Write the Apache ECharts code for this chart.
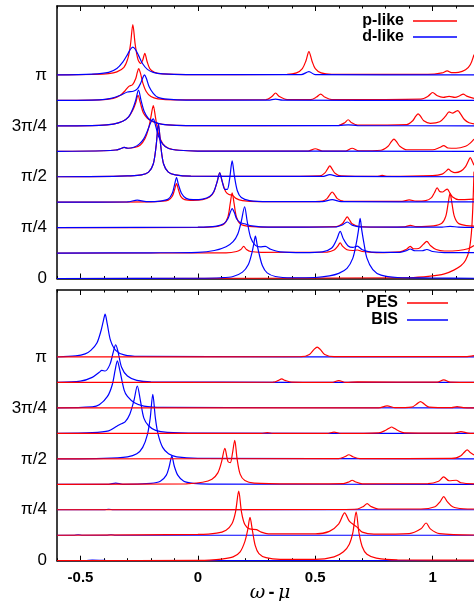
<!DOCTYPE html>
<html><head><meta charset="utf-8">
<script src="https://cdn.jsdelivr.net/npm/echarts@6/dist/echarts.min.js"></script>
<style>html,body{margin:0;padding:0;background:#fff}#c{width:474px;height:601px}</style>
</head><body><div id="c"></div>
<script>
const xMajor = [-0.5, 0, 0.5, 1];
const xMinor = [-0.6,-0.4,-0.3,-0.2,-0.1,0.1,0.2,0.3,0.4,0.6,0.7,0.8,0.9,1.1];
const rowValues = [0, 2, 4, 6, 8];
const rowLabels = ['0', 'π/4', 'π/2', '3π/4', 'π'];
const topNames = ['p-like', 'd-like'];
const botNames = ['PES', 'BIS'];

// Top panel, p-like (red): one curve per row k = 0..8, [ω-μ, height above row baseline]
const pLike = [
 [[-0.6,0],[0.9,0.03],[0.99,0.09],[1.05,0.18],[1.09,0.33],[1.12,0.5],[1.14,0.72],[1.155,1.1],[1.165,1.8],[1.171,2.8],[1.176,4.2]],
 [[-0.6,0],[0.12,0.01],[0.165,0.06],[0.183,0.14],[0.195,0.26],[0.207,0.14],[0.225,0.06],[0.27,0.03],[0.55,0.04],[0.58,0.12],[0.595,0.26],[0.606,0.4],[0.617,0.26],[0.635,0.13],[0.66,0.1],[0.679,0.12],[0.7,0.06],[0.76,0.02],[0.86,0.05],[0.89,0.16],[0.904,0.26],[0.918,0.17],[0.94,0.18],[0.96,0.34],[0.975,0.46],[0.99,0.3],[1.015,0.14],[1.05,0.08],[1.11,0.1],[1.15,0.17],[1.176,0.3]],
 [[-0.6,0],[0.0,0.01],[0.076,0.04],[0.111,0.14],[0.128,0.42],[0.138,0.96],[0.146,1.37],[0.154,0.96],[0.164,0.42],[0.181,0.14],[0.216,0.05],[0.3,0.02],[0.59,0.04],[0.615,0.15],[0.626,0.3],[0.636,0.42],[0.646,0.3],[0.657,0.15],[0.69,0.04],[0.8,0.02],[0.88,0.03],[0.905,0.09],[0.93,0.04],[1.004,0.07],[1.039,0.17],[1.056,0.45],[1.066,0.96],[1.074,1.35],[1.082,0.96],[1.092,0.45],[1.109,0.17],[1.144,0.08],[1.176,0.06]],
 [[-0.6,0],[-0.2,0.01],[-0.16,0.03],[-0.126,0.08],[-0.109,0.23],[-0.099,0.5],[-0.091,0.73],[-0.083,0.5],[-0.073,0.23],[-0.056,0.1],[-0.02,0.07],[0.02,0.1],[0.05,0.2],[0.068,0.4],[0.082,0.8],[0.093,1.15],[0.104,0.8],[0.118,0.42],[0.132,0.3],[0.146,0.28],[0.162,0.15],[0.19,0.06],[0.26,0.02],[0.5,0.02],[0.53,0.04],[0.55,0.14],[0.562,0.3],[0.572,0.4],[0.582,0.3],[0.594,0.14],[0.62,0.04],[0.87,0.03],[0.9,0.09],[0.93,0.04],[0.97,0.06],[0.995,0.18],[1.008,0.38],[1.019,0.56],[1.03,0.42],[1.042,0.4],[1.052,0.46],[1.062,0.51],[1.072,0.38],[1.085,0.2],[1.11,0.1],[1.176,0.12]],
 [[-0.6,0],[-0.36,0.01],[-0.3,0.03],[-0.24,0.07],[-0.21,0.18],[-0.19,0.5],[-0.178,1.2],[-0.168,2.07],[-0.158,1.2],[-0.146,0.5],[-0.126,0.18],[-0.096,0.07],[-0.03,0.02],[0.3,0.01],[0.52,0.03],[0.54,0.14],[0.552,0.3],[0.562,0.43],[0.572,0.3],[0.584,0.14],[0.61,0.03],[0.76,0.01],[0.785,0.05],[0.81,0.01],[1.0,0.04],[1.04,0.1],[1.057,0.22],[1.067,0.3],[1.078,0.22],[1.095,0.16],[1.12,0.22],[1.14,0.4],[1.152,0.62],[1.16,0.75],[1.168,0.62],[1.176,0.45]],
 [[-0.6,0],[-0.4,0.02],[-0.35,0.05],[-0.33,0.1],[-0.314,0.15],[-0.298,0.12],[-0.27,0.15],[-0.245,0.25],[-0.225,0.5],[-0.21,0.9],[-0.2,1.35],[-0.19,1.8],[-0.18,1.3],[-0.168,0.7],[-0.15,0.3],[-0.125,0.12],[-0.08,0.04],[0.0,0.01],[0.47,0.01],[0.5,0.1],[0.53,0.01],[0.63,0.01],[0.657,0.12],[0.685,0.02],[0.78,0.04],[0.81,0.2],[0.824,0.38],[0.835,0.48],[0.846,0.38],[0.86,0.2],[0.89,0.06],[1.0,0.06],[1.03,0.15],[1.047,0.22],[1.065,0.13],[1.1,0.12],[1.14,0.2],[1.16,0.32],[1.176,0.48]],
 [[-0.6,0],[-0.42,0.02],[-0.36,0.07],[-0.32,0.18],[-0.295,0.35],[-0.278,0.6],[-0.265,0.9],[-0.255,1.2],[-0.245,0.9],[-0.232,0.5],[-0.215,0.3],[-0.2,0.2],[-0.18,0.12],[-0.14,0.05],[-0.05,0.01],[0.6,0.02],[0.625,0.12],[0.64,0.24],[0.655,0.12],[0.68,0.03],[0.89,0.05],[0.915,0.2],[0.928,0.38],[0.938,0.47],[0.948,0.38],[0.962,0.2],[0.99,0.1],[1.03,0.16],[1.055,0.38],[1.07,0.55],[1.085,0.5],[1.097,0.56],[1.107,0.6],[1.12,0.45],[1.135,0.25],[1.155,0.12],[1.176,0.08]],
 [[-0.6,0],[-0.42,0.02],[-0.36,0.08],[-0.33,0.2],[-0.31,0.38],[-0.294,0.55],[-0.278,0.62],[-0.265,0.85],[-0.258,1.1],[-0.252,1.25],[-0.244,1.05],[-0.235,0.7],[-0.22,0.35],[-0.2,0.15],[-0.17,0.06],[-0.1,0.02],[0.29,0.03],[0.315,0.15],[0.331,0.29],[0.347,0.15],[0.38,0.03],[0.48,0.03],[0.505,0.13],[0.523,0.25],[0.54,0.13],[0.57,0.03],[0.95,0.05],[0.98,0.16],[1.0,0.31],[1.02,0.18],[1.045,0.12],[1.07,0.16],[1.095,0.12],[1.115,0.18],[1.13,0.25],[1.145,0.17],[1.176,0.08]],
 [[-0.6,0],[-0.45,0.02],[-0.38,0.05],[-0.345,0.12],[-0.315,0.3],[-0.298,0.65],[-0.287,1.2],[-0.277,1.98],[-0.267,1.2],[-0.255,0.6],[-0.243,0.45],[-0.235,0.58],[-0.226,0.85],[-0.217,0.55],[-0.205,0.25],[-0.185,0.1],[-0.15,0.04],[-0.05,0.01],[0.38,0.02],[0.42,0.08],[0.445,0.25],[0.46,0.55],[0.473,0.92],[0.486,0.55],[0.5,0.25],[0.525,0.08],[0.57,0.02],[0.98,0.02],[1.04,0.08],[1.062,0.16],[1.08,0.09],[1.11,0.1],[1.14,0.2],[1.16,0.4],[1.176,0.8]]
];

// Top panel, d-like (blue)
const dLike = [
 [[-0.6,0],[0.0,0.01],[0.1,0.03],[0.15,0.08],[0.19,0.25],[0.215,0.55],[0.23,1.0],[0.238,1.35],[0.245,1.67],[0.252,1.35],[0.26,1.0],[0.275,0.5],[0.295,0.22],[0.33,0.08],[0.4,0.03],[0.5,0.04],[0.56,0.1],[0.6,0.2],[0.635,0.4],[0.66,0.8],[0.675,1.4],[0.684,1.9],[0.691,2.36],[0.698,1.9],[0.707,1.4],[0.72,0.8],[0.745,0.35],[0.78,0.13],[0.85,0.04],[1.0,0.02],[1.176,0.01]],
 [[-0.6,0],[-0.2,0.01],[0.0,0.03],[0.07,0.1],[0.12,0.25],[0.15,0.45],[0.17,0.75],[0.185,1.25],[0.199,1.82],[0.21,1.25],[0.225,0.6],[0.245,0.3],[0.265,0.24],[0.287,0.26],[0.31,0.15],[0.35,0.05],[0.45,0.02],[0.53,0.05],[0.57,0.2],[0.592,0.55],[0.606,0.85],[0.62,0.55],[0.64,0.28],[0.66,0.22],[0.679,0.27],[0.7,0.13],[0.74,0.04],[0.86,0.03],[0.89,0.1],[0.904,0.16],[0.925,0.09],[0.955,0.09],[0.975,0.14],[1.0,0.06],[1.05,0.02],[1.176,0.02]],
 [[-0.6,0],[0.0,0.02],[0.08,0.06],[0.11,0.15],[0.128,0.35],[0.138,0.6],[0.146,0.75],[0.155,0.6],[0.165,0.35],[0.18,0.2],[0.199,0.15],[0.23,0.07],[0.3,0.02],[0.59,0.03],[0.615,0.1],[0.636,0.22],[0.657,0.1],[0.69,0.03],[1.04,0.02],[1.074,0.05],[1.11,0.02],[1.176,0.01]],
 [[-0.6,0],[-0.3,0.01],[-0.258,0.08],[-0.22,0.02],[-0.16,0.04],[-0.126,0.12],[-0.109,0.35],[-0.099,0.7],[-0.091,0.97],[-0.083,0.7],[-0.07,0.35],[-0.05,0.15],[-0.02,0.1],[0.02,0.12],[0.05,0.22],[0.068,0.42],[0.082,0.8],[0.093,1.15],[0.104,0.8],[0.115,0.5],[0.125,0.5],[0.135,0.9],[0.146,1.62],[0.156,1.0],[0.168,0.45],[0.185,0.18],[0.22,0.06],[0.3,0.02],[0.53,0.02],[0.572,0.1],[0.61,0.02],[1.176,0.01]],
 [[-0.6,0],[-0.36,0.01],[-0.3,0.03],[-0.24,0.07],[-0.21,0.18],[-0.19,0.5],[-0.178,1.2],[-0.168,2.07],[-0.158,1.2],[-0.146,0.5],[-0.126,0.18],[-0.096,0.07],[-0.03,0.02],[0.3,0.01],[0.53,0.01],[0.562,0.08],[0.6,0.01],[1.176,0]],
 [[-0.6,0],[-0.4,0.02],[-0.35,0.05],[-0.33,0.1],[-0.314,0.15],[-0.298,0.12],[-0.273,0.16],[-0.25,0.28],[-0.23,0.5],[-0.215,0.8],[-0.2,1.15],[-0.19,1.27],[-0.18,1.0],[-0.168,0.6],[-0.15,0.28],[-0.125,0.11],[-0.08,0.04],[0.0,0.01],[1.176,0]],
 [[-0.6,0],[-0.42,0.02],[-0.36,0.07],[-0.32,0.18],[-0.295,0.35],[-0.278,0.65],[-0.265,1.0],[-0.253,1.4],[-0.242,1.0],[-0.228,0.55],[-0.21,0.28],[-0.19,0.18],[-0.17,0.1],[-0.13,0.04],[-0.05,0.01],[0.6,0.01],[0.64,0.04],[0.68,0.01],[1.176,0]],
 [[-0.6,0],[-0.42,0.02],[-0.37,0.08],[-0.33,0.2],[-0.3,0.33],[-0.275,0.36],[-0.258,0.45],[-0.245,0.65],[-0.235,0.88],[-0.228,1.0],[-0.22,0.88],[-0.208,0.55],[-0.19,0.28],[-0.17,0.12],[-0.13,0.05],[-0.05,0.01],[0.3,0.01],[0.331,0.05],[0.36,0.01],[1.176,0]],
 [[-0.6,0],[-0.45,0.03],[-0.38,0.1],[-0.345,0.25],[-0.32,0.5],[-0.3,0.8],[-0.288,1.0],[-0.277,1.09],[-0.266,1.0],[-0.252,0.75],[-0.236,0.45],[-0.215,0.22],[-0.19,0.1],[-0.15,0.04],[-0.05,0.01],[0.44,0.01],[0.473,0.13],[0.5,0.01],[1.176,0]]
];

// Bottom panel, PES (red)
const pes = [
 [[-0.6,0],[0.0,0.01],[0.05,0.02],[0.1,0.06],[0.15,0.15],[0.18,0.35],[0.2,0.75],[0.212,1.2],[0.222,1.7],[0.232,1.2],[0.244,0.6],[0.26,0.28],[0.29,0.12],[0.35,0.05],[0.5,0.05],[0.58,0.15],[0.62,0.35],[0.645,0.65],[0.66,1.1],[0.674,1.92],[0.686,1.1],[0.7,0.55],[0.72,0.25],[0.76,0.1],[0.85,0.03],[1.176,0.02]],
 [[-0.6,0],[0.0,0.03],[0.08,0.08],[0.12,0.2],[0.145,0.45],[0.16,0.9],[0.174,1.73],[0.186,0.9],[0.2,0.42],[0.22,0.25],[0.25,0.22],[0.27,0.12],[0.3,0.05],[0.5,0.05],[0.56,0.15],[0.6,0.45],[0.625,0.88],[0.645,0.55],[0.665,0.4],[0.68,0.3],[0.7,0.12],[0.75,0.04],[0.9,0.06],[0.95,0.25],[0.972,0.48],[0.99,0.25],[1.03,0.06],[1.176,0.01]],
 [[-0.6,0],[0.6,0.01],[0.68,0.03],[0.705,0.13],[0.721,0.24],[0.737,0.13],[0.77,0.03],[0.95,0.03],[1.01,0.12],[1.032,0.32],[1.047,0.52],[1.062,0.32],[1.085,0.12],[1.13,0.04],[1.176,0.03]],
 [[-0.6,0],[-0.05,0.02],[0.02,0.08],[0.06,0.2],[0.085,0.45],[0.1,0.85],[0.115,1.41],[0.128,0.9],[0.138,0.85],[0.147,1.2],[0.157,1.73],[0.167,1.0],[0.18,0.4],[0.2,0.15],[0.24,0.05],[0.4,0.02],[0.62,0.03],[0.645,0.1],[0.657,0.16],[0.67,0.1],[0.7,0.02],[0.98,0.03],[1.025,0.12],[1.047,0.29],[1.07,0.14],[1.1,0.16],[1.12,0.06],[1.176,0.02]],
 [[-0.6,0],[0.6,0.01],[0.625,0.08],[0.643,0.16],[0.66,0.08],[0.69,0.01],[1.08,0.02],[1.1,0.04],[1.12,0.12],[1.135,0.26],[1.147,0.35],[1.16,0.25],[1.176,0.15]],
 [[-0.6,0],[0.27,0],[0.296,0.03],[0.32,0],[0.55,0],[0.58,0.05],[0.61,0],[0.77,0.02],[0.8,0.12],[0.814,0.2],[0.825,0.25],[0.836,0.2],[0.85,0.12],[0.88,0.02],[1.09,0.01],[1.12,0.07],[1.15,0.01],[1.176,0]],
 [[-0.6,0],[0.77,0],[0.806,0.08],[0.84,0.01],[0.91,0.03],[0.932,0.15],[0.948,0.25],[0.964,0.15],[0.985,0.03],[1.08,0.01],[1.104,0.05],[1.13,0.01],[1.176,0]],
 [[-0.6,0],[0.32,0.01],[0.343,0.08],[0.357,0.14],[0.371,0.08],[0.4,0.01],[0.57,0],[0.6,0.07],[0.63,0],[0.68,0.02],[1.02,0.01],[1.047,0.1],[1.075,0.01],[1.176,0]],
 [[-0.6,0],[0.44,0.01],[0.475,0.1],[0.495,0.3],[0.508,0.39],[0.521,0.3],[0.54,0.1],[0.58,0.01],[1.14,0.01],[1.176,0.05]]
];

// Bottom panel, BIS (blue)
const bis = [
 [[-0.6,0],[-0.48,0],[-0.45,0.02],[-0.4,0.01],[-0.3,0],[1.176,0]],
 [[-0.6,0],[-0.53,0],[-0.51,0.02],[-0.49,0],[-0.39,0],[-0.37,0.02],[-0.35,0],[1.176,0]],
 [[-0.6,0],[-0.4,0],[-0.38,0.02],[-0.36,0],[1.176,0]],
 [[-0.6,0],[-0.38,0],[-0.35,0.05],[-0.32,0],[-0.2,0.04],[-0.16,0.12],[-0.135,0.35],[-0.122,0.7],[-0.111,1.11],[-0.1,0.7],[-0.085,0.35],[-0.06,0.12],[-0.02,0.04],[0.05,0.01],[1.176,0]],
 [[-0.6,0],[-0.4,0.02],[-0.3,0.08],[-0.26,0.2],[-0.235,0.45],[-0.215,0.95],[-0.203,1.6],[-0.192,2.53],[-0.181,1.6],[-0.169,0.95],[-0.15,0.45],[-0.125,0.2],[-0.09,0.08],[0.0,0.02],[1.176,0]],
 [[-0.6,0],[-0.45,0.03],[-0.38,0.1],[-0.345,0.28],[-0.328,0.37],[-0.31,0.45],[-0.29,0.75],[-0.272,1.3],[-0.258,1.86],[-0.245,1.3],[-0.23,0.6],[-0.21,0.3],[-0.18,0.12],[-0.13,0.04],[0.0,0.01],[1.176,0]],
 [[-0.6,0],[-0.45,0.04],[-0.42,0.12],[-0.385,0.45],[-0.365,0.9],[-0.352,1.5],[-0.343,1.85],[-0.333,1.5],[-0.314,0.7],[-0.3,0.45],[-0.27,0.2],[-0.23,0.07],[-0.15,0.02],[1.176,0]],
 [[-0.6,0],[-0.5,0.05],[-0.45,0.2],[-0.42,0.4],[-0.409,0.47],[-0.395,0.45],[-0.375,0.7],[-0.36,1.2],[-0.35,1.48],[-0.34,1.2],[-0.325,0.6],[-0.3,0.25],[-0.26,0.08],[-0.2,0.02],[1.176,0]],
 [[-0.6,0],[-0.52,0.04],[-0.48,0.12],[-0.456,0.26],[-0.43,0.55],[-0.412,1.05],[-0.403,1.4],[-0.395,1.68],[-0.386,1.3],[-0.372,0.65],[-0.35,0.26],[-0.314,0.08],[-0.25,0.02],[1.176,0]]
];

const FONT = '"Liberation Sans", Arial, Helvetica, sans-serif';
const RED = '#ff0000', BLUE = '#0000ff';
const XMIN = -0.6, XMAX = 1.176;

function makeSeries(curves, name, color, xi, yi, z) {
  return curves.map((pts, k) => ({
    type: 'line', name: name, xAxisIndex: xi, yAxisIndex: yi,
    data: pts.map(p => [p[0], k + p[1]]),
    symbol: 'none', smooth: 0.3, z: z,
    lineStyle: { color: color, width: 1.2 }, itemStyle: { color: color },
    silent: true
  }));
}

function xAxes(grid, withLabels) {
  const base = { gridIndex: grid, type: 'value', min: XMIN, max: XMAX, splitLine: { show: false } };
  const line = { show: true, onZero: false, lineStyle: { color: '#000', width: 1.5 } };
  return [
    Object.assign({}, base, { position: 'bottom', axisLine: line,
      axisTick: { show: true, inside: true, length: 5, customValues: xMajor, lineStyle: { color: '#000', width: 1 } },
      axisLabel: withLabels ? { show: true, customValues: xMajor, margin: 10, fontFamily: FONT, fontWeight: 'bold', fontSize: 15, color: '#000' } : { show: false } }),
    Object.assign({}, base, { position: 'bottom', axisLine: { show: false, onZero: false },
      axisTick: { show: true, inside: true, length: 2.5, customValues: xMinor, lineStyle: { color: '#000', width: 1 } },
      axisLabel: { show: false } }),
    Object.assign({}, base, { position: 'top', axisLine: line,
      axisTick: { show: true, inside: true, length: 5, customValues: xMajor, lineStyle: { color: '#000', width: 1 } },
      axisLabel: { show: false } }),
    Object.assign({}, base, { position: 'top', axisLine: { show: false, onZero: false },
      axisTick: { show: true, inside: true, length: 2.5, customValues: xMinor, lineStyle: { color: '#000', width: 1 } },
      axisLabel: { show: false } })
  ];
}

function yAxis(grid, max) {
  return { gridIndex: grid, type: 'value', min: 0, max: max, position: 'left', splitLine: { show: false },
    axisLine: { show: true, onZero: false, lineStyle: { color: '#000', width: 1.5 } }, axisTick: { show: false },
    axisLabel: { show: true, customValues: rowValues, margin: 10, fontFamily: FONT, fontSize: 17, color: '#000',
      formatter: v => rowLabels[rowValues.indexOf(Math.round(v))] || '' } };
}

const legendText = { fontFamily: FONT, fontWeight: 'bold', fontSize: 16, lineHeight: 15, color: '#000', padding: [0, 4, 0, 0] };

const option = {
  animation: false,
  backgroundColor: '#fff',
  grid: [
    { left: 57, top: 6, width: 417, height: 272.5 },
    { left: 57, top: 290, width: 417, height: 270.7 }
  ],
  xAxis: xAxes(0, false).concat(xAxes(1, true)),
  yAxis: [yAxis(0, 10.71), yAxis(1, 10.63)],
  legend: [
    { data: topNames, orient: 'vertical', right: 12, top: 8, align: 'right', icon: 'rect', itemWidth: 44, itemHeight: 1.4, itemGap: 0,
      textStyle: legendText, selectedMode: false },
    { data: botNames, orient: 'vertical', right: 21, top: 290, align: 'right', icon: 'rect', itemWidth: 41, itemHeight: 1.4, itemGap: 1,
      textStyle: legendText, selectedMode: false }
  ],
  graphic: [{
    type: 'text', x: 270, y: 593,
    style: { text: '{i|ω} {b|-} {i|μ}', align: 'center', verticalAlign: 'middle',
      rich: { i: { fontFamily: '"DejaVu Serif", serif', fontStyle: 'italic', fontSize: 19, fill: '#000', color: '#000' },
              b: { fontFamily: FONT, fontWeight: 'bold', fontSize: 18, fill: '#000', color: '#000' } } }
  }],
  series: [].concat(
    makeSeries(pLike, topNames[0], RED, 0, 0, 2),
    makeSeries(dLike, topNames[1], BLUE, 0, 0, 3),
    makeSeries(bis, botNames[1], BLUE, 4, 1, 2),
    makeSeries(pes, botNames[0], RED, 4, 1, 3)
  )
};
const chart = echarts.init(document.getElementById('c'), null, { renderer: 'canvas' });
chart.setOption(option);
</script>
</body></html>
